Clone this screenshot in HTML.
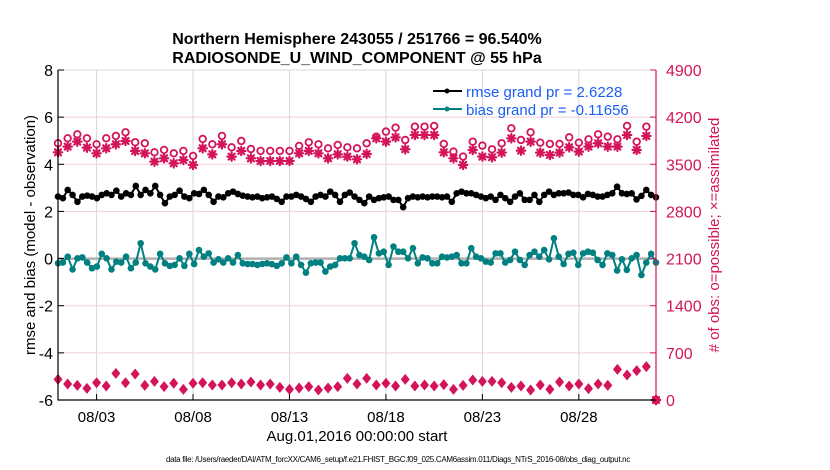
<!DOCTYPE html>
<html><head><meta charset="utf-8"><style>
body{margin:0;background:#fff;}
svg{display:block;font-family:"Liberation Sans",sans-serif;}
</style></head><body>
<svg id="chart" width="830" height="470" viewBox="0 0 830 470" xmlns="http://www.w3.org/2000/svg">
<rect width="830" height="470" fill="#fff"/>
<g id="grid"></g>
<g id="marks"></g>
<g id="axes"></g>
<text x="357" y="44" text-anchor="middle" font-size="16" font-weight="bold">Northern Hemisphere 243055 / 251766 = 96.540%</text>
<text x="357" y="63" text-anchor="middle" font-size="16" font-weight="bold">RADIOSONDE_U_WIND_COMPONENT @ 55 hPa</text>
<text transform="translate(35,235) rotate(-90)" text-anchor="middle" font-size="15">rmse and bias (model - observation)</text>
<text transform="translate(719,235) rotate(-90)" text-anchor="middle" font-size="15" fill="#d4145a"># of obs: o=possible; ×=assimilated</text>
<text x="357" y="441" text-anchor="middle" font-size="15">Aug.01,2016 00:00:00 start</text>
<text x="398" y="462" text-anchor="middle" font-size="8" letter-spacing="-0.3">data file: /Users/raeder/DAI/ATM_forcXX/CAM6_setup/f.e21.FHIST_BGC.f09_025.CAM6assim.011/Diags_NTrS_2016-08/obs_diag_output.nc</text>
<g>
  <line x1="433" y1="91" x2="462" y2="91" stroke="#000" stroke-width="2"/><circle cx="447" cy="91" r="2.5" fill="#000"/>
  <text x="466" y="97" font-size="15" fill="#1a5ef5">rmse grand pr = 2.6228</text>
  <line x1="433" y1="109" x2="462" y2="109" stroke="#008080" stroke-width="2"/><circle cx="447" cy="109" r="2.5" fill="#008080"/>
  <text x="466" y="115" font-size="15" fill="#1a5ef5">bias grand pr = -0.11656</text>
</g>
</svg>
<script>
const rmse=[2.63,2.56,2.91,2.70,2.41,2.63,2.67,2.63,2.56,2.70,2.77,2.70,2.88,2.63,2.77,2.70,3.08,2.70,2.91,2.77,3.08,2.70,2.35,2.63,2.70,2.88,2.63,2.56,2.77,2.74,2.91,2.70,2.41,2.63,2.60,2.77,2.84,2.74,2.67,2.63,2.60,2.63,2.56,2.60,2.63,2.53,2.41,2.63,2.63,2.70,2.63,2.53,2.41,2.63,2.70,2.63,2.84,2.70,2.41,2.70,2.80,
2.63,2.49,2.35,2.63,2.49,2.56,2.60,2.63,2.49,2.49,2.18,2.56,2.63,2.60,2.63,2.60,2.63,2.63,2.60,2.63,2.41,2.77,2.84,2.77,2.77,2.70,2.63,2.56,2.63,2.49,2.70,2.56,2.41,2.63,2.77,2.49,2.49,2.70,2.41,2.70,2.84,2.70,2.77,2.77,2.80,2.70,2.70,2.60,2.74,2.70,2.63,2.63,2.70,2.77,3.05,2.77,2.74,2.77,2.51,2.66,2.91,2.70,2.60];
const bias=[-0.20,-0.17,0.08,-0.46,0.01,0.05,-0.17,-0.41,-0.34,0.20,0.01,-0.46,-0.13,-0.17,0.08,-0.41,-0.17,0.65,-0.20,-0.34,-0.46,0.20,-0.20,-0.31,-0.27,0.01,-0.31,0.20,-0.23,0.36,0.08,0.22,-0.17,-0.03,-0.17,0.01,-0.17,0.15,-0.20,-0.23,-0.23,-0.27,-0.23,-0.20,-0.24,-0.31,-0.20,0.05,-0.20,0.08,-0.27,-0.60,-0.20,-0.17,-0.17,-0.55,-0.34,-0.27,0.01,0.01,0.01,
0.65,0.15,0.08,-0.06,0.90,0.22,0.29,-0.27,0.51,0.29,0.29,0.01,0.44,-0.20,0.05,0.01,-0.20,-0.20,0.08,0.05,0.08,0.15,-0.20,-0.20,0.44,0.08,0.01,-0.13,-0.17,0.22,0.22,-0.17,-0.06,0.29,-0.06,-0.27,0.15,0.29,0.08,0.36,-0.03,0.86,0.08,-0.23,0.20,0.25,-0.27,0.22,0.29,0.25,-0.06,-0.27,0.22,0.15,-0.51,-0.03,-0.48,0.01,0.15,-0.70,-0.17,0.20,-0.17];
const possible=[3812,3886,3945,3886,3797,3886,3921,3975,3827,3812,3678,3713,3663,3698,3624,3876,3797,3921,3752,3846,3727,3698,3698,3698,3698,3772,3827,3797,3737,3787,3752,
3737,3812,3910,3985,4044,3861,4059,4059,4069,3802,3688,3614,3836,3777,3723,3812,4034,3861,3975,3821,3802,3802,3900,3821,3871,3945,3910,3871,4069,3836,4059,0];
const assimilated=[3678,3762,3836,3747,3663,3737,3797,3846,3698,3663,3539,3589,3515,3564,3490,3737,3648,3797,3614,3698,3589,3549,3549,3549,3549,3663,3698,3663,3589,3648,3614,
3574,3653,3886,3836,3900,3723,3935,3935,3935,3678,3589,3490,3713,3614,3604,3673,3886,3703,3836,3673,3638,3673,3752,3688,3762,3812,3762,3762,3935,3713,3921,0];
const lowerCount=[307,238,218,173,257,208,396,257,386,218,277,198,248,158,248,257,223,223,257,238,267,223,238,188,158,178,198,148,178,198,322,238,322,223,248,208,307,208,223,208,228,158,218,297,277,277,257,188,208,148,223,158,267,208,238,168,238,218,455,371,436,495,0];
const xTickDays=[3,8,13,18,23,28];
const xTickLabels=["08/03","08/08","08/13","08/18","08/23","08/28"];
const leftTicks=[-6,-4,-2,0,2,4,6,8];
const rightTicks=[0,700,1400,2100,2800,3500,4200,4900];
const dayStart=1, dayEnd=32;

const NS="http://www.w3.org/2000/svg";
const PL=58,PR=656,PT=70,PB=400;
const X=d=>PL+(d-1)/(31)*(PR-PL);
const YL=v=>PB-(v+6)/14*(PB-PT);
const YR=v=>PB-v/4900*(PB-PT);
const RED="#d4145a",TEAL="#008080";
function mk(tag,attrs,parent){const e=document.createElementNS(NS,tag);for(const k in attrs)e.setAttribute(k,attrs[k]);parent.appendChild(e);return e;}
const grid=document.getElementById('grid'),marks=document.getElementById('marks'),axes=document.getElementById('axes');
const dayOf=(i,n)=>dayStart+i*(dayEnd-dayStart)/(n-1);

xTickDays.forEach((d,i)=>{
  const g=mk('line',{x1:X(d),x2:X(d),y1:PT,y2:PB,stroke:"#d8d8d8","stroke-width":1},grid);
  
  
  const t=mk('line',{x1:X(d),x2:X(d),y1:PB,y2:PB-6,stroke:"#000"},axes);
  
  
  const l=mk('text',{x:X(d),y:PB+22,"text-anchor":"middle","font-size":15},axes);
  l.textContent=xTickLabels[i];
  
  
});
rightTicks.forEach(v=>{
  const g=mk('line',{x1:PL,x2:PR,y1:YR(v),y2:YR(v),stroke:"#f2cfdc","stroke-width":1},grid);
  
  
  const t=mk('line',{x1:PR,x2:PR-6,y1:YR(v),y2:YR(v),stroke:RED},axes);
  
  
  const l=mk('text',{x:PR+10,y:YR(v)+6,"font-size":16,fill:RED},axes);
  l.textContent=v;
  
  
});
leftTicks.forEach(v=>{
  const t=mk('line',{x1:PL,x2:PL+6,y1:YL(v),y2:YL(v),stroke:"#000"},axes);
  
  
  const l=mk('text',{x:PL-5,y:YL(v)+6,"font-size":16,"text-anchor":"end"},axes);
  l.textContent=v;
  
  
});
const topBorder=mk('line',{x1:PL,x2:PR,y1:PT,y2:PT,stroke:"#d8d8d8"},grid);


const zl=mk('line',{x1:PL,x2:PR,y1:YL(0),y2:YL(0),stroke:"#b0b0b0","stroke-width":2.5},grid);


const la=mk('line',{x1:PL,x2:PL,y1:PT,y2:PB+0.5,stroke:"#000","stroke-width":1.2},axes);


const ba=mk('line',{x1:PL,x2:PR,y1:PB,y2:PB,stroke:"#000","stroke-width":1.2},axes);


const ra=mk('line',{x1:PR,x2:PR,y1:PT,y2:PB,stroke:RED,"stroke-width":1.2},axes);



function lineSeries(arr,color,name){
  const pts=arr.map((v,i)=>X(dayOf(i,arr.length)).toFixed(1)+","+YL(v).toFixed(1)).join(" ");
  const pl=mk('polyline',{points:pts,fill:"none",stroke:color,"stroke-width":2},marks);
  
  
  arr.forEach((v,i)=>{
    const c=mk('circle',{cx:X(dayOf(i,arr.length)),cy:YL(v),r:3.3,fill:color},marks);
    
    
  });
}
function star(cx,cy,name){
  const g=mk('g',{stroke:RED,"stroke-width":2.2,"stroke-linecap":"round"},marks);
  
  
  const r=4.2;
  mk('line',{x1:cx-r,x2:cx+r,y1:cy,y2:cy},g);
  mk('line',{x1:cx,x2:cx,y1:cy-r,y2:cy+r},g);
  mk('line',{x1:cx-3,x2:cx+3,y1:cy-3,y2:cy+3},g);
  mk('line',{x1:cx-3,x2:cx+3,y1:cy+3,y2:cy-3},g);
}
possible.forEach((v,i)=>{
  const c=mk('circle',{cx:X(dayOf(i,possible.length)),cy:YR(v),r:3.3,fill:"none",stroke:RED,"stroke-width":1.8},marks);
  
  
});
assimilated.forEach((v,i)=>star(X(dayOf(i,assimilated.length)),YR(v),'assimilated-count-marker'));
lowerCount.forEach((v,i)=>{
  const cx=X(dayOf(i,lowerCount.length)),cy=YR(v);
  const p=mk('path',{d:`M${cx},${cy-5.5} L${cx+4.5},${cy} L${cx},${cy+5.5} L${cx-4.5},${cy} Z`,fill:RED},marks);
  
  
});
lineSeries(rmse,"#000",'rmse');
lineSeries(bias,TEAL,'bias');
</script>
</body></html>
